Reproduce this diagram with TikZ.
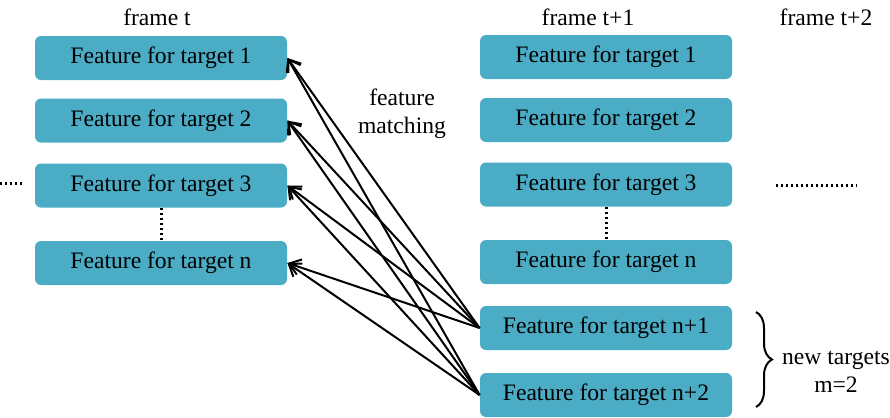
\documentclass[tikz,border=0pt]{standalone}
\usepackage{fontspec}
\setmainfont{LiberationSerif}[Extension=.ttf, UprightFont=*-Regular, BoldFont=*-Bold]
\usetikzlibrary{arrows.meta,decorations.pathreplacing}
\definecolor{featblue}{HTML}{4BACC6}
\tikzset{
	feat/.style={fill=featblue, rounded corners=3pt, minimum width=126pt, minimum height=22pt, inner sep=0pt, font=\fontsize{11.8}{14}\selectfont},
	lbl/.style={font=\fontsize{11.8}{14}\selectfont, align=center},
	match/.style={line width=1pt, -{Straight Barb[length=5.5pt,width=8pt]}},
	dots/.style={line width=1.5pt, dash pattern=on 1.2pt off 1.3pt}
}

\begin{document}
\begin{tikzpicture}[x=0.5pt,y=-0.5pt]
			%%%%% START %%%%%
			\useasboundingbox (0,0) rectangle (890,418);
			
			\node[lbl] (ft) at (157,17) {frame t};
			\node[lbl] (ft1) at (588,17) {frame t+1};
			\node[lbl] (ft2) at (826,17) {frame t+2};
			
			\node[feat] (l1) at (161,58) {Feature for target 1};
			\node[feat] (l2) at (161,120.5) {Feature for target 2};
			\node[feat] (l3) at (161,185.5) {Feature for target 3};
			\node[feat] (ln) at (161,263) {Feature for target n};
			
			\node[feat] (r1) at (606,57) {Feature for target 1};
			\node[feat] (r2) at (606,120) {Feature for target 2};
			\node[feat] (r3) at (606,184.5) {Feature for target 3};
			\node[feat] (rn) at (606,262) {Feature for target n};
			\node[feat] (r5) at (606,328) {Feature for target n+1};
			\node[feat] (r6) at (606,395) {Feature for target n+2};
			
			\node[lbl] (fm) at (402,114) {feature\\matching};
			
			\draw[dots] (l3.south) -- (ln.north);
			\draw[dots] (r3.south) -- (rn.north);
			\coordinate (la) at (0,183);
			\coordinate (lb) at (23,183);
			\draw[dots] (la) -- (lb);
			\coordinate (ra) at (776,185);
			\coordinate (rb) at (857,185);
			\draw[dots] (ra) -- (rb);
			
			\draw[match] (r5.west) -- (l1.east);
			\draw[match] (r5.west) -- (l2.east);
			\draw[match] (r5.west) -- (l3.east);
			\draw[match] (r5.west) -- (ln.east);
			\draw[match] (r6.west) -- (l1.east);
			\draw[match] (r6.west) -- (l2.east);
			\draw[match] (r6.west) -- (l3.east);
			\draw[match] (r6.west) -- (ln.east);
			
			\coordinate (btop) at (756,312);
			\coordinate (bbot) at (756,407);
			\draw[decorate, decoration={brace, amplitude=8pt}, line width=1pt] (btop) -- (bbot);
			\node[lbl] (nt) at (836,372) {new targets\\m=2};
			%%%%% END %%%%%
\end{tikzpicture}
\end{document}
